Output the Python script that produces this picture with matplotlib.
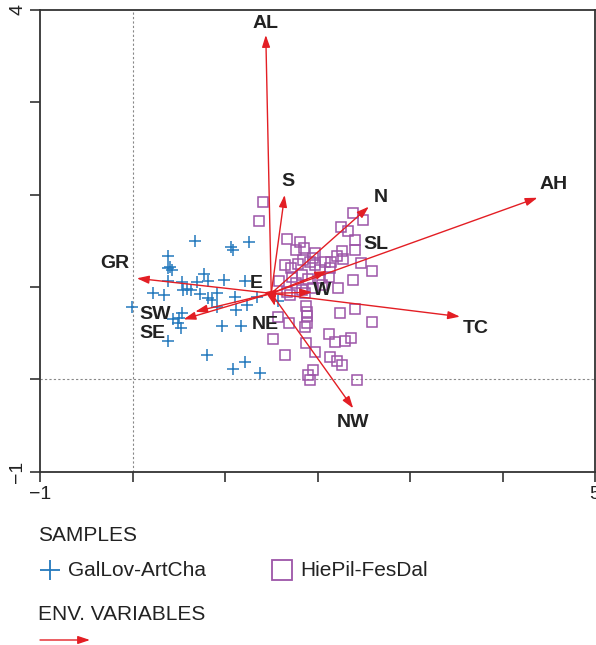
import numpy as np
import matplotlib
matplotlib.use('Agg')
import matplotlib.pyplot as plt
from matplotlib.lines import Line2D
from matplotlib.patches import FancyArrowPatch

plt.rcParams['font.family'] = ['Liberation Sans', 'DejaVu Sans']

# Samples: GalLov-ArtCha (plus markers)
gal_x = [0.678, 1.069, 1.090, 1.263, 0.386, 0.408, 0.386, 0.429, 0.776, 0.819,
         0.993, 1.220, 0.386, 0.224, 0.343, 0.538, 0.548, 0.592, 0.635, 0.700,
         0.732, 0.819, 0.862, 0.917, 1.111, 1.122, 1.242, 1.350, -0.004, 0.538,
         0.440, 0.505, 0.494, 0.527, 0.386, 0.971, 1.177, 0.808, 1.220, 1.090,
         1.383, 1.576, 0.917]
gal_y = [1.497, 1.432, 1.399, 1.486, 1.334, 1.215, 1.204, 1.183, 1.140, 1.064,
         1.075, 1.064, 1.064, 0.934, 0.912, 1.053, 0.967, 0.977, 0.967, 1.053,
         0.923, 0.880, 0.858, 0.934, 0.891, 0.750, 0.804, 0.891, 0.782, 0.718,
         0.653, 0.663, 0.609, 0.555, 0.415, 0.577, 0.577, 0.263, 0.188, 0.112,
         0.068, 0.847, 0.782]

# Samples: HiePil-FesDal (open squares)
hie_x = [1.415, 1.371, 1.675, 1.815, 1.859, 1.978, 2.249, 2.335, 2.389, 2.487,
         2.400, 2.400, 2.270, 2.216, 2.281, 2.151, 2.086, 2.465, 2.594, 1.653,
         1.848, 1.794, 1.978, 2.032, 2.140, 2.389, 1.588, 1.729, 1.837, 1.902,
         2.032, 2.119, 1.675, 1.707, 1.837, 1.870, 1.946, 2.227, 1.880, 1.891,
         1.891, 2.238, 2.400, 2.584, 1.870, 1.891, 1.523, 1.696, 1.577, 2.119,
         2.184, 2.292, 2.357, 1.880, 1.978, 1.653, 2.140, 2.216, 2.270, 1.946,
         1.902, 1.924, 2.422, 1.772, 1.924, 2.054, 1.772, 1.718, 1.956]
hie_y = [1.919, 1.713, 1.518, 1.486, 1.421, 1.367, 1.648, 1.605, 1.800, 1.724,
         1.508, 1.399, 1.389, 1.334, 1.302, 1.270, 1.270, 1.259, 1.172, 1.237,
         1.291, 1.248, 1.237, 1.183, 1.205, 1.075, 1.064, 1.107, 1.129, 1.085,
         1.096, 1.107, 0.945, 0.913, 0.967, 0.934, 0.988, 0.988, 0.793, 0.729,
         0.685, 0.718, 0.761, 0.620, 0.566, 0.609, 0.436, 0.609, 0.674, 0.491,
         0.404, 0.415, 0.447, 0.393, 0.296, 0.263, 0.241, 0.198, 0.155, 0.101,
         0.047, -0.008, -0.008, 1.400, 1.270, 1.020, 1.042, 1.205, 1.313]

# Environmental variables (arrows start from a common point)
env_names = ['AL', 'S', 'N', 'AH', 'SL', 'W', 'TC', 'NW', 'NE', 'E', 'GR', 'SW', 'SE']
env_x = [1.441, 1.645, 2.555, 4.378, 2.104, 1.942, 3.540, 2.386, 1.539, 1.415, 0.047, 0.678, 0.552]
env_y = [3.726, 1.995, 1.868, 1.965, 1.172, 0.942, 0.678, -0.314, 0.793, 0.939, 1.093, 0.732, 0.649]
env_origin = (1.50, 0.93)
label_x = [1.436, 1.685, 2.682, 4.555, 2.627, 2.054, 3.710, 2.389, 1.436, 1.339, -0.188, 0.245, 0.213]
label_y = [3.856, 2.139, 1.965, 2.103, 1.464, 0.966, 0.555, -0.472, 0.588, 1.042, 1.248, 0.696, 0.501]

BLUE = '#2479bd'
PURPLE = '#9d55a8'
RED = '#e31e24'
DARK = '#333333'

fig = plt.figure(figsize=(5.96, 6.45), dpi=100)
ax = fig.add_axes([40 / 596, 1 - 471.7 / 645, 555 / 596, 462 / 645])

ax.set_xlim(-1, 5)
ax.set_ylim(-1, 4)

# reference lines through zero
ax.axvline(0, color='#888888', lw=0.8, ls=(0, (2, 2)), zorder=1)
ax.axhline(0, color='#888888', lw=0.8, ls=(0, (2, 2)), zorder=1)

ax.plot(gal_x, gal_y, ls='none', marker='+', ms=8.5, mew=1.1, color=BLUE, zorder=2)
ax.plot(hie_x, hie_y, ls='none', marker='s', ms=7.5, mew=1.1, mfc='none', mec=PURPLE, zorder=2)

for name, x, y, lx, ly in zip(env_names, env_x, env_y, label_x, label_y):
    ax.annotate('', xy=(x, y), xytext=env_origin,
                arrowprops=dict(arrowstyle='-|>,head_length=0.6,head_width=0.2',
                                color=RED, lw=1.0, mutation_scale=12,
                                shrinkA=0, shrinkB=0), zorder=3)
    ax.text(lx, ly, name, fontsize=14, fontweight='bold', color='#222222',
            ha='center', va='center', zorder=4)

# axes styling: ticks at every unit, labels only at the ends
ax.set_xticks(np.arange(-1, 6))
ax.set_xticklabels(['\u22121', '', '', '', '', '', '5'])
ax.set_yticks(np.arange(-1, 5))
ax.set_yticklabels(['\u22121', '', '', '', '', '4'], rotation=90, va='center')
ax.tick_params(direction='out', length=7, width=1.2, color=DARK,
               labelsize=14, labelcolor='#222222', pad=3)
for sp in ax.spines.values():
    sp.set_color(DARK)
    sp.set_linewidth(1.3)

# legend block below the plot
fig.text(38 / 596, 1 - 535.7 / 645, 'SAMPLES', fontsize=15, color='#222222', va='center')
fig.add_artist(Line2D([49.5 / 596], [1 - 570 / 645], transform=fig.transFigure,
                      ls='none', marker='+', ms=14, mew=1.3, color=BLUE))
fig.text(67.7 / 596, 1 - 570 / 645, 'GalLov-ArtCha', fontsize=15, color='#222222', va='center')
fig.add_artist(Line2D([281.7 / 596], [1 - 570 / 645], transform=fig.transFigure,
                      ls='none', marker='s', ms=14, mew=1.3, mfc='none', mec=PURPLE))
fig.text(300 / 596, 1 - 570 / 645, 'HiePil-FesDal', fontsize=15, color='#222222', va='center')
fig.text(38 / 596, 1 - 615 / 645, 'ENV. VARIABLES', fontsize=15, color='#222222', va='center')
fig.add_artist(FancyArrowPatch((40 / 596, 1 - 640 / 645), (90 / 596, 1 - 640 / 645),
                               transform=fig.transFigure,
                               arrowstyle='-|>,head_length=0.6,head_width=0.2',
                               color=RED, lw=1.0, mutation_scale=12,
                               shrinkA=0, shrinkB=0))

fig.savefig('out.png', dpi=100)
plt.close(fig)
